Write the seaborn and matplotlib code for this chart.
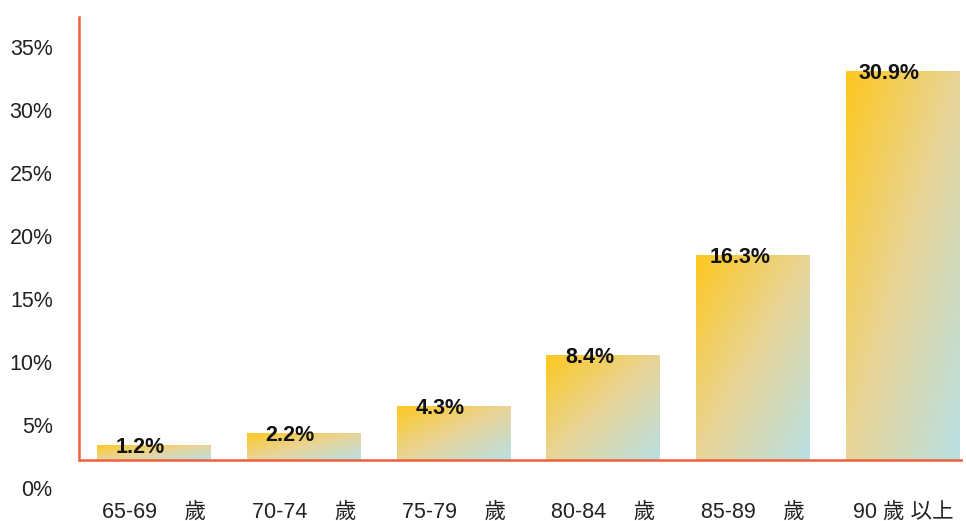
import numpy as np
import pandas as pd
import matplotlib
matplotlib.use("Agg")
import matplotlib.pyplot as plt
from matplotlib.colors import LinearSegmentedColormap
import seaborn as sns

categories = ["65-69\u3000 歲", "70-74\u3000 歲", "75-79\u3000 歲", "80-84\u3000 歲", "85-89\u3000 歲", "90 歲 以上"]
values = [1.2, 2.2, 4.3, 8.4, 16.3, 30.9]
value_labels = ["1.2%", "2.2%", "4.3%", "8.4%", "16.3%", "30.9%"]
y_ticks = [0, 5, 10, 15, 20, 25, 30, 35]
y_tick_labels = ["0%", "5%", "10%", "15%", "20%", "25%", "30%", "35%"]
BASE = 2.2  # visual baseline where the axis line sits

sns.set_style("white")
plt.rcParams["font.family"] = ["Liberation Sans", "Noto Sans CJK TC"]

fig = plt.figure(figsize=(9.66, 5.21), dpi=100)
ax = fig.add_axes([0.0818, 0.0633, 0.915, 0.904])

df = pd.DataFrame({"age": categories, "pct": values})
sns.barplot(data=df, x="age", y="pct", ax=ax, width=0.76, color="#FEC81F",
            saturation=1, errorbar=None)

cmap = LinearSegmentedColormap.from_list("g", ["#FEC81F", "#E8D497", "#B8E0E4"])
N = 200
u = np.linspace(0, 1, N)[None, :]
v = np.linspace(0, 1, N)[:, None]
t = 0.5 * (u + (1 - v))
grad = cmap(t)

for p, lab in zip(ax.patches, value_labels):
    p.set_y(BASE)
    x0, w, h = p.get_x(), p.get_width(), p.get_height()
    p.set_facecolor("none")
    p.set_edgecolor("none")
    im = ax.imshow(grad, extent=[x0, x0 + w, BASE, BASE + h], origin="lower",
                   aspect="auto", zorder=2, interpolation="bilinear")
    im.set_clip_path(p)
    ax.text(x0 + w / 2 - 0.09, BASE + h - 0.2, lab, ha="center", va="center",
            fontsize=15.5, fontweight="bold", color="#111111", zorder=3)

ax.set_xlim(-0.5, 5.4)
ax.set_ylim(0, 37.4)
ax.set_yticks(y_ticks)
ax.set_yticklabels(y_tick_labels, fontsize=15.5, color="#222222")
ax.tick_params(axis="y", length=0, pad=19)
ax.tick_params(axis="x", length=0, pad=10, labelsize=15.5, labelcolor="#222222")
ax.set_xlabel("")
ax.set_ylabel("")

for s in ["top", "right", "bottom"]:
    ax.spines[s].set_visible(False)
ax.spines["left"].set_color("#F0603F")
ax.spines["left"].set_linewidth(1.8)
ax.spines["left"].set_bounds(BASE, 37.4)
ax.axhline(BASE, color="#F0603F", linewidth=1.8, zorder=4)

fig.savefig("out.png", dpi=100)
